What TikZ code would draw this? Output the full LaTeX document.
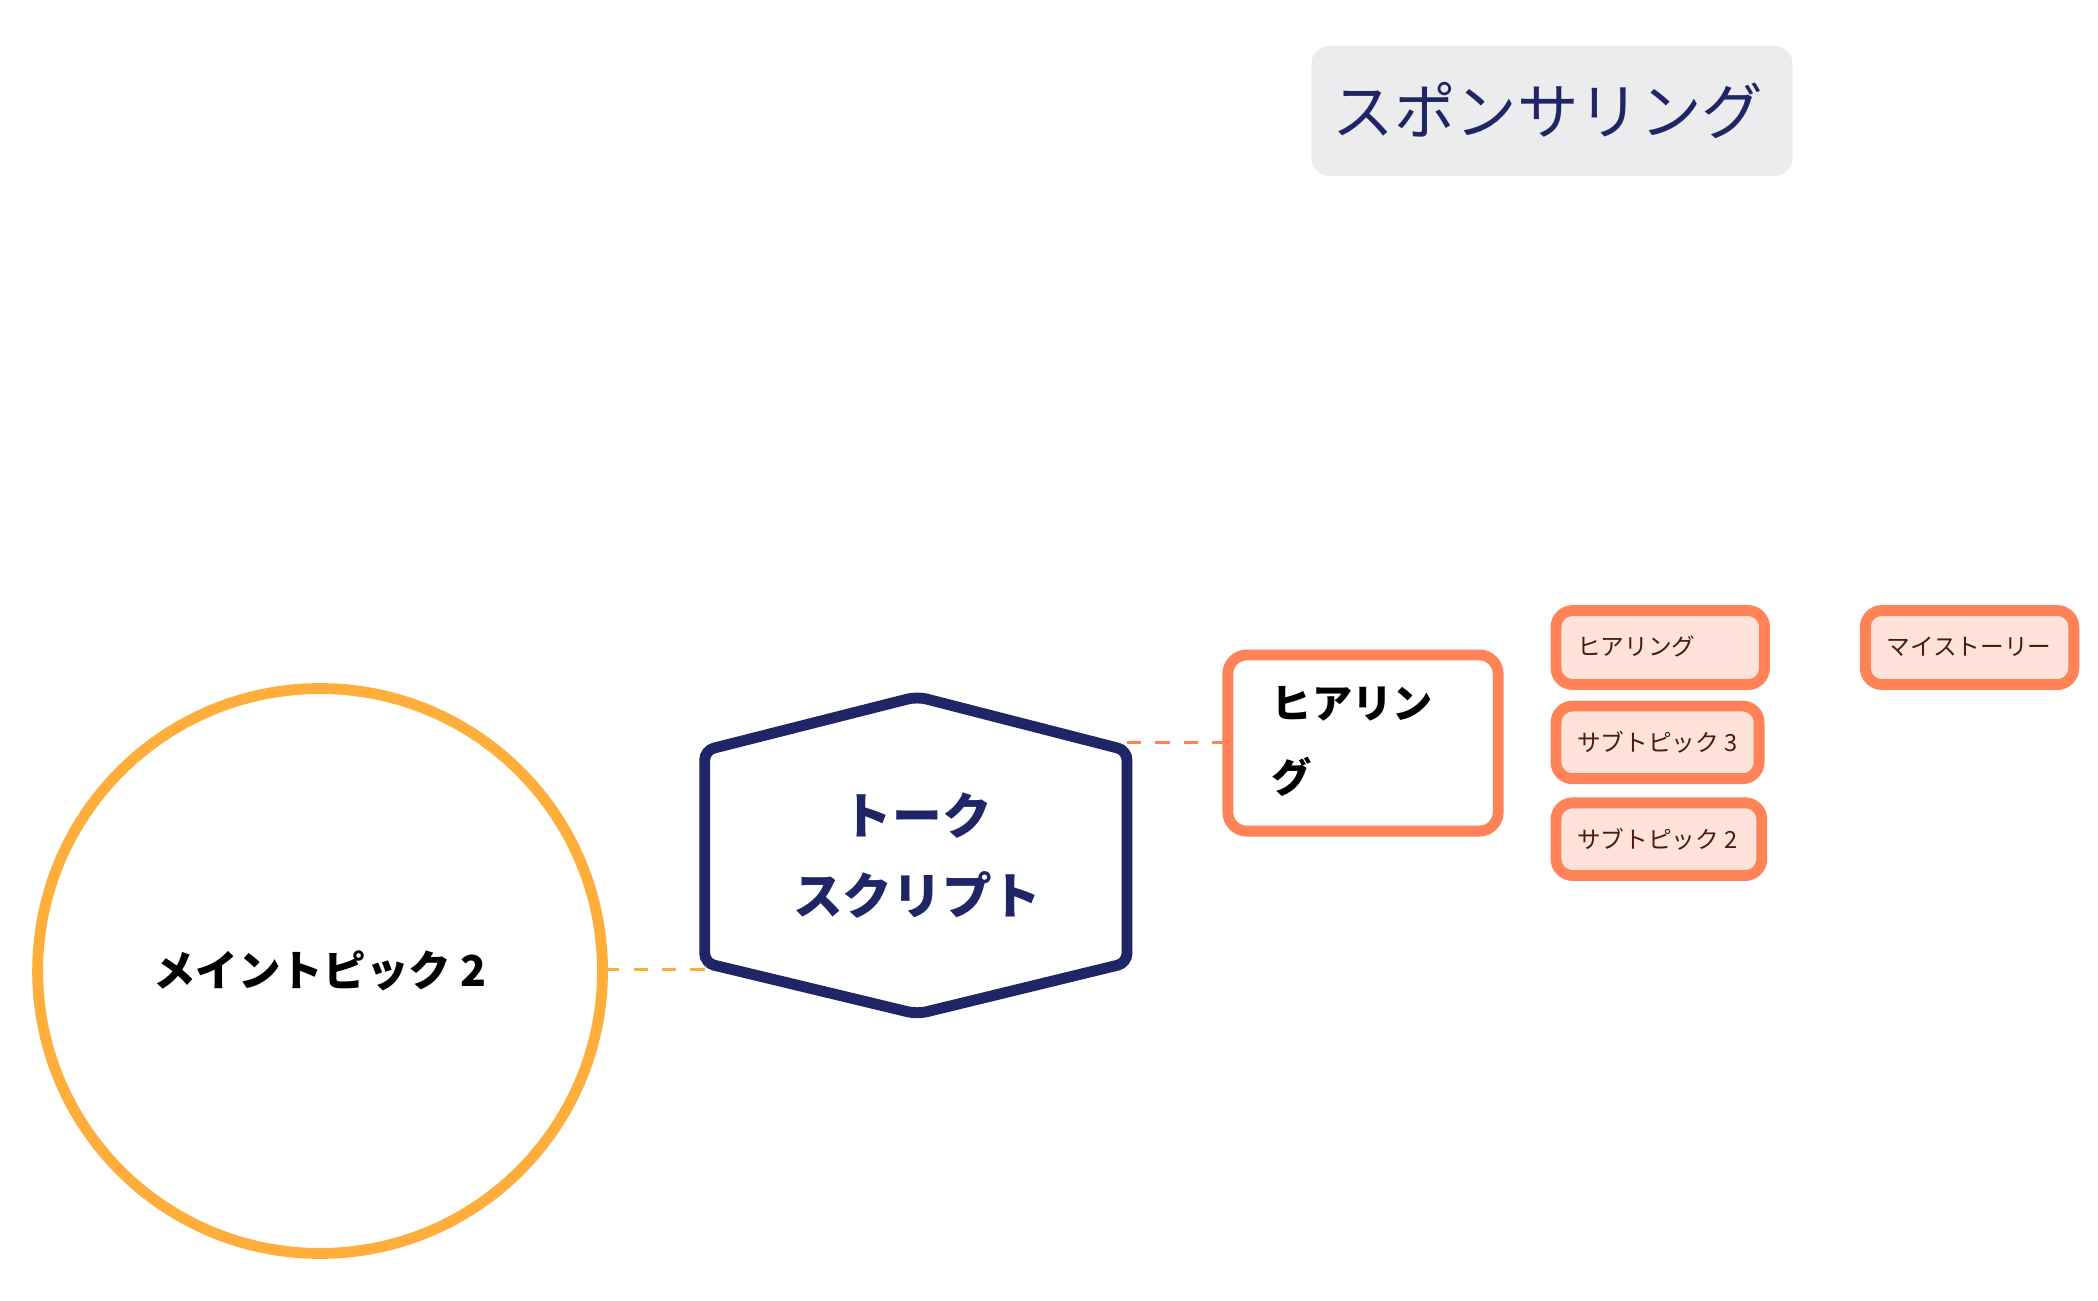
\documentclass[tikz,border=0pt]{standalone}
\usepackage{fontspec}
\setmainfont{Noto Sans CJK JP}
\definecolor{navy}{HTML}{1F2666}
\definecolor{orng}{HTML}{FFAD3B}
\definecolor{coral}{HTML}{FF8357}
\definecolor{pinkf}{HTML}{FFE3DA}
\definecolor{greyf}{HTML}{ECEBEE}
\definecolor{brn}{HTML}{4A1A0A}
\begin{document}
\begin{tikzpicture}[x=0.01cm,y=-0.01cm,
  sbox/.style={draw=coral,fill=pinkf,line width=2.3pt,rounded corners=3.5pt},
  st/.style={anchor=west,inner sep=0pt,font=\fontsize{5}{6}\selectfont,text=brn},
  conn/.style={dashed,draw=coral,line width=0.6pt}]
\useasboundingbox (0,0) rectangle (1560,967);
\fill[greyf,rounded corners=4pt] (975,34) rectangle (1333,131);
\node[text=navy,font=\fontsize{13}{15}\selectfont] (tt) at (1151,82) {スポンサリング};
% circle
\draw[orng,line width=2.3pt,fill=white] (238,722) circle (210);
\node[font=\bfseries\fontsize{9}{11}\selectfont] (mt) at (238,722) {メイントピック 2};
% hexagon
\draw[navy,line width=2.3pt,rounded corners=2pt,fill=white] (682,518) -- (838,558) -- (838,716) -- (682,754) -- (524,716) -- (524,558) -- cycle;
\coordinate (hexL) at (524,721);
\coordinate (hexR) at (838,552);
\coordinate (circR) at (450,721);
\node[text=navy,font=\bfseries\fontsize{10.5}{17}\selectfont,align=center] (hex) at (682,636) {トーク\\スクリプト};
\draw[conn,draw=orng] (circR) -- (hexL);
% box
\draw[coral,line width=2.3pt,rounded corners=4pt,fill=white] (913,487) rectangle (1114,618);
\coordinate (boxL) at (912,552);
\node[anchor=north west,align=left,font=\bfseries\fontsize{8.5}{15.5}\selectfont,inner sep=0pt] (hear) at (945,510) {ヒアリン\\グ};
\draw[conn] (hexR) -- (boxL);
% small boxes
\draw[sbox] (1157,454) rectangle (1312,509);
\draw[sbox] (1157,525) rectangle (1308,579);
\draw[sbox] (1157,597) rectangle (1310,651);
\draw[sbox] (1387,454) rectangle (1542,509);
\node[st] (s1) at (1172,481) {ヒアリング};
\node[st] (s2) at (1172,552) {サブトピック 3};
\node[st] (s3) at (1172,624) {サブトピック 2};
\node[st] (s4) at (1402,481) {マイストーリー};
\end{tikzpicture}
\end{document}
